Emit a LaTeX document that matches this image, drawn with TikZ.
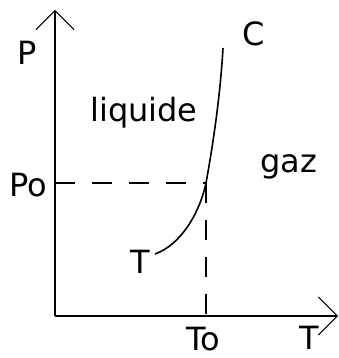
\documentclass[tikz,border=0pt]{standalone}
\usepackage{fontspec}
\setmainfont{DejaVu Sans}
\usetikzlibrary{arrows.meta}

\begin{document}
\begin{tikzpicture}[
  x=1pt, y=-1pt,
  lbl/.style={inner sep=0pt, anchor=base, font=\fontsize{32}{32}\selectfont},
  axis/.style={line width=1.8pt, -{Straight Barb[length=19pt, width=38pt, line width=1pt]}},
  guide/.style={line width=1.8pt, dash pattern=on 20pt off 17pt},
  phase/.style={line width=1.6pt}
]
\useasboundingbox (0,0) rectangle (339,358);

% axes
\coordinate (O) at (55,316);
\coordinate (ytip) at (55,10);
\coordinate (xtip) at (338,316);
\draw[axis] (O) -- (ytip);
\draw[axis] (O) -- (xtip);

% points on the curve
\coordinate (tp) at (155,254);
\coordinate (p0) at (206,183);
\coordinate (cp) at (223,48);
\coordinate (p0y) at (55,183);
\coordinate (p0x) at (206,316);

% equilibrium curve
\draw[phase] (tp) .. controls (180,245) and (199,215) .. (p0)
  .. controls (212,150) and (220,100) .. (cp);

% Po / To guides
\draw[guide] (p0y) -- (p0);
\draw[guide] (p0) -- (p0x);

% labels
\node[lbl] (lP) at (27,65) {P};
\node[lbl] (lPo) at (28,196) {Po};
\node[lbl] (lT) at (309,349) {T};
\node[lbl] (lTo) at (203,350) {To};
\node[lbl] (lC) at (254,46) {C};
\node[lbl] (lTr) at (140,273) {T};
\node[lbl] (lliq) at (144,122) {liquide};
\node[lbl] (lgaz) at (289,172) {gaz};
\end{tikzpicture}
\end{document}
